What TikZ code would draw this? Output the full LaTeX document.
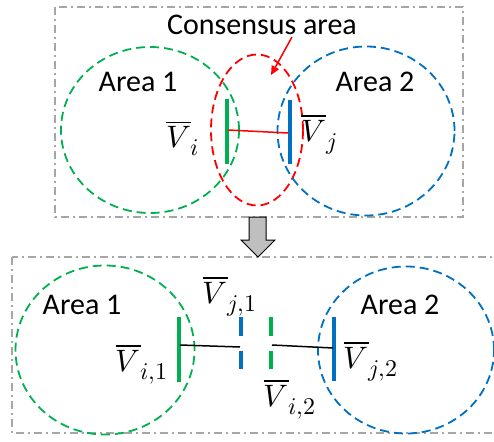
\documentclass[tikz,border=0pt]{standalone}
\usepackage{fontspec}
\usepackage{unicode-math}
\setmainfont{Carlito}
\setmathfont{Latin Modern Math}
\newcommand\subx[1]{\hbox{\fontsize{24}{26}\selectfont$#1$}}
\usetikzlibrary{shapes.geometric,arrows.meta}
\definecolor{cgreen}{HTML}{00B050}
\definecolor{cblue}{HTML}{0070C0}
\definecolor{cgray}{HTML}{A6A6A6}
\definecolor{cfill}{HTML}{BFBFBF}
\begin{document}
\begin{tikzpicture}[x=1pt,y=-1pt,
  lbl/.style={font=\fontsize{30}{36}\selectfont, inner sep=0pt},
  mlbl/.style={font=\fontsize{31}{36}\selectfont, inner sep=0pt},
  frame/.style={draw=cgray, line width=1.5pt, dash pattern=on 8pt off 4pt on 2pt off 4pt},
  region/.style={ellipse, draw, line width=1.8pt, dash pattern=on 9pt off 5pt, inner sep=0pt},
  bus/.style={line width=4.5pt},
  tie/.style={line width=1.5pt},
]
\useasboundingbox (0,0) rectangle (494,441);
% frames
\draw[frame] (55,7) rectangle (463,217);
\draw[frame] (12,257) rectangle (505,433);
% top regions
\node[region, draw=cgreen, minimum width=178pt, minimum height=166pt] (g1) at (150,130) {};
\node[region, draw=red, minimum width=92pt, minimum height=151pt] (cr) at (257,130) {};
\node[region, draw=cblue, minimum width=177pt, minimum height=169pt] (b1) at (366,131) {};
% top buses
\coordinate (gt) at (227,99); \coordinate (gb) at (227,164);
\coordinate (bt) at (290,100); \coordinate (bb) at (290,164);
\draw[bus, cgreen] (gt) -- (gb);
\draw[bus, cblue] (bt) -- (bb);
\coordinate (gi) at (228,130); \coordinate (bj) at (288,133);
\draw[tie, red] (gi) -- (bj);
% top labels
\node[lbl] (a1) at (138,82) {Area 1};
\node[lbl] (a2) at (375,82) {Area 2};
\node[lbl] (cons) at (262,25) {Consensus area};
\node[mlbl] (vi) at (183,138) {$\overline{V}_{\subx{i}}$};
\node[mlbl] (vj) at (319,134) {$\overline{V}_{\subx{j}}$};
\coordinate (cs) at (292,37); \coordinate (ct) at (271,75);
\draw[red, line width=1.5pt, -{Triangle[length=9pt,width=8pt]}] (cs) -- (ct);
% block arrow
\draw[fill=cfill, line width=1pt] (249,217) -- (266,217) -- (266,240) -- (275,240) -- (258,257) -- (241,240) -- (249,240) -- cycle;
% bottom regions
\node[region, draw=cgreen, minimum width=179pt, minimum height=169pt] (g2) at (105,350) {};
\node[region, draw=cblue, minimum width=176pt, minimum height=167pt] (b2) at (406,350) {};
% bottom buses
\coordinate (g2t) at (179,317); \coordinate (g2b) at (179,382);
\coordinate (b2t) at (334,317); \coordinate (b2b) at (334,381);
\draw[bus, cgreen] (g2t) -- (g2b);
\draw[bus, cblue] (b2t) -- (b2b);
\coordinate (d1a) at (241,317); \coordinate (d1b) at (241,336);
\coordinate (d1c) at (241,351); \coordinate (d1d) at (241,369);
\coordinate (d2a) at (271,317); \coordinate (d2b) at (271,336);
\coordinate (d2c) at (271,351); \coordinate (d2d) at (271,369);
\draw[line width=4pt, cblue] (d1a) -- (d1b) (d1c) -- (d1d);
\draw[line width=4pt, cgreen] (d2a) -- (d2b) (d2c) -- (d2d);
\coordinate (l1a) at (180,345); \coordinate (l1b) at (240,347);
\coordinate (l2a) at (272,345); \coordinate (l2b) at (333,348);
\draw[tie] (l1a) -- (l1b);
\draw[tie] (l2a) -- (l2b);
% bottom labels
\node[lbl] (a3) at (82,305) {Area 1};
\node[lbl] (a4) at (400,305) {Area 2};
\node[mlbl] (vi1) at (142,364) {$\overline{V}_{\subx{i{,}1}}$};
\node[mlbl] (vj1) at (230,296) {$\overline{V}_{\subx{j{,}1}}$};
\node[mlbl] (vi2) at (290,399) {$\overline{V}_{\subx{i{,}2}}$};
\node[mlbl] (vj2) at (371,361) {$\overline{V}_{\subx{j{,}2}}$};
\end{tikzpicture}
\end{document}
